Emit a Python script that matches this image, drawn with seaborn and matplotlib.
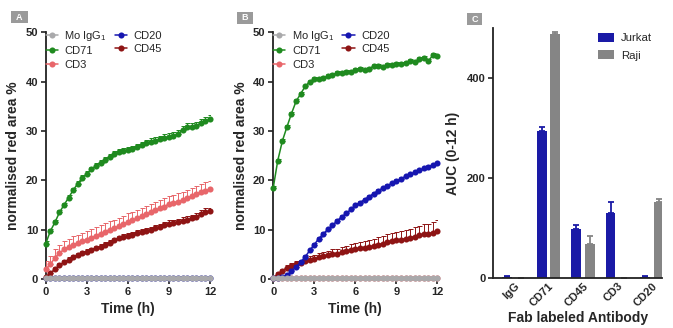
import numpy as np
import pandas as pd
import matplotlib
matplotlib.use("Agg")
import matplotlib.pyplot as plt
from matplotlib.patches import Rectangle
import seaborn as sns

sns.set_theme(style="ticks")
plt.rcParams['font.family'] = ['Liberation Sans', 'DejaVu Sans']
plt.rcParams['font.weight'] = 'bold'
plt.rcParams['axes.labelweight'] = 'bold'
plt.rcParams['mathtext.default'] = 'regular'

# ---------------- data ----------------
time_h = [0.00, 0.33, 0.67, 1.00, 1.33, 1.67, 2.00, 2.33, 2.67, 3.00, 3.33, 3.67,
          4.00, 4.33, 4.67, 5.00, 5.33, 5.67, 6.00, 6.33, 6.67, 7.00, 7.33, 7.67,
          8.00, 8.33, 8.67, 9.00, 9.33, 9.67, 10.00, 10.33, 10.67, 11.00, 11.33, 11.67, 12.00]

# Panel A (Jurkat)
a_igg = [0.3] * 37
a_cd20 = [0.2] * 37
a_cd71 = [7.2, 9.7, 11.5, 13.5, 15.0, 16.5, 18.0, 19.3, 20.5, 21.3, 22.2, 23.0,
          23.6, 24.2, 24.7, 25.3, 25.7, 26.0, 26.1, 26.4, 26.8, 27.2, 27.5, 27.8,
          28.0, 28.3, 28.6, 28.8, 29.0, 29.4, 30.2, 30.8, 30.8, 31.0, 31.6, 32.0, 32.4]
a_cd71_err = [0.5, 0.5, 0.5, 0.5, 0.5, 0.5, 0.5, 0.5, 0.5, 0.6, 0.6, 0.6,
              0.6, 0.6, 0.6, 0.6, 0.6, 0.6, 0.6, 0.6, 0.6, 0.6, 0.6, 0.7,
              0.7, 0.7, 0.7, 0.7, 0.7, 0.7, 0.8, 0.8, 0.8, 0.8, 0.8, 0.9, 0.9]
a_cd3 = [2.0, 3.0, 4.3, 5.3, 6.0, 6.5, 7.0, 7.3, 7.7, 8.0, 8.4, 8.8,
         9.2, 9.6, 10.0, 10.3, 10.7, 11.1, 11.6, 11.9, 12.3, 12.7, 13.1, 13.5,
         13.9, 14.3, 14.7, 15.2, 15.4, 15.7, 16.0, 16.4, 16.8, 17.2, 17.6, 17.9, 18.2]
a_cd3_err = [1.6, 1.6, 1.7, 1.7, 1.7, 1.7, 1.7, 1.7, 1.7, 1.7, 1.7, 1.7,
             1.7, 1.7, 1.7, 1.7, 1.7, 1.7, 1.7, 1.7, 1.7, 1.7, 1.7, 1.7,
             1.7, 1.7, 1.7, 1.7, 1.7, 1.7, 1.7, 1.7, 1.7, 1.7, 1.7, 1.7, 1.7]
a_cd45 = [0.5, 1.2, 2.0, 2.8, 3.4, 3.9, 4.4, 4.8, 5.2, 5.5, 5.9, 6.3,
          6.6, 7.0, 7.4, 7.9, 8.3, 8.6, 8.8, 9.0, 9.3, 9.6, 9.8, 10.0,
          10.3, 10.6, 11.0, 11.2, 11.3, 11.5, 11.8, 12.0, 12.3, 12.6, 13.2, 13.6, 13.7]
a_cd45_err = [0.4, 0.4, 0.5, 0.5, 0.5, 0.5, 0.5, 0.5, 0.5, 0.5, 0.5, 0.5,
              0.5, 0.5, 0.5, 0.5, 0.5, 0.5, 0.6, 0.6, 0.6, 0.6, 0.6, 0.6,
              0.6, 0.6, 0.6, 0.7, 0.7, 0.7, 0.7, 0.7, 0.7, 0.7, 0.8, 0.8, 0.8]

# Panel B (Raji)
b_igg = [0.3] * 37
b_cd3 = [0.2] * 37
b_cd71 = [18.5, 24.0, 28.0, 30.8, 33.5, 36.0, 37.5, 39.0, 40.0, 40.5, 40.6, 40.8,
          41.1, 41.4, 41.7, 41.8, 42.0, 42.0, 42.3, 42.5, 42.4, 42.6, 43.1, 43.2,
          43.0, 43.4, 43.3, 43.6, 43.5, 43.8, 44.2, 44.0, 44.5, 44.7, 44.2, 45.3, 45.1]
b_cd71_err = [0.4] * 37
b_cd20 = [0.2, 0.2, 0.4, 0.8, 1.6, 2.5, 3.4, 4.5, 5.8, 7.0, 8.2, 9.2,
          10.1, 10.9, 11.8, 12.6, 13.3, 14.1, 15.0, 15.5, 16.1, 16.7, 17.3, 17.9,
          18.4, 18.9, 19.4, 19.9, 20.3, 20.8, 21.2, 21.6, 22.0, 22.4, 22.8, 23.1, 23.5]
b_cd20_err = [0.3] * 37
b_cd45 = [0.3, 1.0, 1.7, 2.3, 2.7, 3.0, 3.3, 3.6, 3.9, 4.1, 4.4, 4.6,
          4.8, 5.0, 5.1, 5.4, 5.7, 5.9, 6.1, 6.3, 6.4, 6.5, 6.7, 7.0,
          7.2, 7.5, 7.8, 7.9, 8.0, 8.2, 8.4, 8.6, 8.9, 9.1, 9.2, 9.4, 9.8]
b_cd45_err = [0.3, 0.4, 0.4, 0.5, 0.5, 0.6, 0.6, 0.7, 0.7, 0.8, 0.8, 0.9,
              0.9, 1.0, 1.0, 1.1, 1.1, 1.2, 1.2, 1.3, 1.3, 1.4, 1.4, 1.5,
              1.5, 1.6, 1.6, 1.7, 1.7, 1.8, 1.8, 1.9, 1.9, 2.0, 2.0, 2.1, 2.2]

# Panel C
antibodies = ["IgG", "CD71", "CD45", "CD3", "CD20"]
cells = ["Jurkat", "Raji"]
auc_jurkat = [3, 293, 98, 130, 3]
auc_jurkat_err = [1, 8, 8, 22, 1]
auc_raji = [0, 487, 68, 1, 152]
auc_raji_err = [0, 5, 17, 0, 6]

# ---------------- styling ----------------
C_IGG = "#a9a9ab"
C_CD71 = "#1f8a1f"
C_CD3 = "#e8666a"
C_CD20 = "#1616b0"
C_CD45 = "#8e1414"
C_JUR = "#1a1aa6"
C_RAJI = "#858585"

TICK_FS = 8
LABEL_FS = 10

fig = plt.figure(figsize=(6.73, 3.28), dpi=100)
axA = fig.add_axes([0.068, 0.149, 0.244, 0.753])
axB = fig.add_axes([0.406, 0.149, 0.244, 0.753])
axC = fig.add_axes([0.733, 0.152, 0.251, 0.763])


def series(ax, y, color, label, err=None, z=2):
    if err is not None:
        ax.errorbar(time_h, y, yerr=[np.zeros(len(y)), err], fmt='none',
                    ecolor=color, elinewidth=0.7, capsize=1.8, capthick=0.7, zorder=z - 0.5)
    sns.lineplot(x=time_h, y=y, ax=ax, color=color, marker='o', markersize=4.4,
                 markeredgewidth=0, linewidth=1.1, label=label, zorder=z, clip_on=False)


def style_line_axes(ax):
    ax.set_xlim(0, 12)
    ax.set_ylim(0, 50)
    ax.set_xticks([0, 3, 6, 9, 12])
    ax.set_yticks([0, 10, 20, 30, 40, 50])
    sns.despine(ax=ax)
    for s in ["left", "bottom"]:
        ax.spines[s].set_linewidth(1.3)
        ax.spines[s].set_color("#222222")
        ax.spines[s].set_zorder(1)
    ax.tick_params(width=1.2, length=3.5, labelsize=TICK_FS, pad=2, color="#222222")
    for lab in ax.get_xticklabels() + ax.get_yticklabels():
        lab.set_fontweight('bold')
    ax.set_xlabel("Time (h)", fontsize=LABEL_FS, fontweight='bold', labelpad=4)
    ax.set_ylabel("normalised red area %", fontsize=LABEL_FS, fontweight='bold', labelpad=4)


def line_legend(ax, handles, labels):
    ax.legend(handles, labels, loc='upper left', bbox_to_anchor=(-0.035, 1.035), ncol=2,
              frameon=False, prop={'size': 8, 'weight': 'normal'}, handlelength=1.1,
              handletextpad=0.6, columnspacing=0.7, labelspacing=0.3, borderaxespad=0.1)


# Panel A
series(axA, a_cd20, C_CD20, "CD20", z=2)
series(axA, a_cd45, C_CD45, "CD45", a_cd45_err, z=3)
series(axA, a_cd3, C_CD3, "CD3", a_cd3_err, z=4)
series(axA, a_cd71, C_CD71, "CD71", a_cd71_err, z=5)
series(axA, a_igg, C_IGG, "Mo IgG$_1$", z=6)
style_line_axes(axA)
h, l = axA.get_legend_handles_labels()
d = dict(zip(l, h))
order = ["Mo IgG$_1$", "CD71", "CD3", "CD20", "CD45"]
line_legend(axA, [d[k] for k in order], order)

# Panel B
series(axB, b_cd3, C_CD3, "CD3", z=2)
series(axB, b_cd45, C_CD45, "CD45", b_cd45_err, z=3)
series(axB, b_cd20, C_CD20, "CD20", b_cd20_err, z=4)
series(axB, b_cd71, C_CD71, "CD71", b_cd71_err, z=5)
series(axB, b_igg, C_IGG, "Mo IgG$_1$", z=6)
style_line_axes(axB)
h, l = axB.get_legend_handles_labels()
d = dict(zip(l, h))
line_legend(axB, [d[k] for k in order], order)

# Panel C
dfc = pd.DataFrame({
    "Antibody": antibodies * 2,
    "Cell": [cells[0]] * len(antibodies) + [cells[1]] * len(antibodies),
    "AUC": auc_jurkat + auc_raji,
    "err": auc_jurkat_err + auc_raji_err,
})
sns.barplot(data=dfc, x="Antibody", y="AUC", hue="Cell", order=antibodies, hue_order=cells,
            palette=[C_JUR, C_RAJI], errorbar=None, width=0.8, gap=0.28, ax=axC,
            saturation=1, linewidth=0)
cols = {cells[0]: C_JUR, cells[1]: C_RAJI}
for cont, cell in zip(axC.containers, cells):
    sub = dfc[dfc.Cell == cell].set_index("Antibody").loc[antibodies]
    xs = [p.get_x() + p.get_width() / 2 for p in cont.patches]
    hs = [p.get_height() for p in cont.patches]
    axC.errorbar(xs, hs, yerr=[np.zeros(len(xs)), sub["err"].values], fmt='none',
                 ecolor=cols[cell], elinewidth=1.3, capsize=2.5, capthick=1.3, zorder=1)
axC.set_xlim(-0.6, 4.3)
axC.set_ylim(0, 500)
axC.set_yticks([0, 200, 400])
sns.despine(ax=axC)
for s in ["left", "bottom"]:
    axC.spines[s].set_linewidth(1.3)
    axC.spines[s].set_color("#222222")
axC.tick_params(width=1.2, length=3.5, labelsize=TICK_FS, pad=2, color="#222222")
axC.tick_params(axis='x', length=0)
plt.setp(axC.get_xticklabels(), rotation=45, ha='right', rotation_mode='anchor', fontweight='bold')
plt.setp(axC.get_yticklabels(), fontweight='bold')
axC.set_xlabel("Fab labeled Antibody", fontsize=LABEL_FS, fontweight='bold', labelpad=2)
axC.set_ylabel("AUC (0-12 h)", fontsize=LABEL_FS, fontweight='bold', labelpad=5)
axC.legend(loc='upper right', bbox_to_anchor=(1.0, 1.02), frameon=False,
           prop={'size': 8.2, 'weight': 'normal'},
           handlelength=1.4, handleheight=0.8, handletextpad=0.6, labelspacing=0.6)

# panel tags (pixel boxes: x0, y0 from top, w, h)
W, H = 673, 328
for x0, y0, w, hgt, t in [(11, 11, 17, 12, "A"), (237, 12, 16, 12, "B"), (467, 13, 15, 12, "C")]:
    fig.patches.append(Rectangle((x0 / W, 1 - (y0 + hgt) / H), w / W, hgt / H,
                                 transform=fig.transFigure, fc="#9a9a9a", ec="none"))
    fig.text((x0 + w / 2) / W, 1 - (y0 + hgt / 2) / H, t, fontsize=6.5, color="white",
             fontweight='bold', ha='center', va='center')

fig.savefig("out.png", dpi=100)
